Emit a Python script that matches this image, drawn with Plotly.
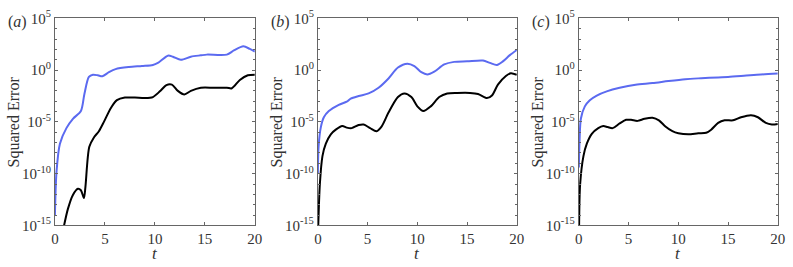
import plotly.graph_objects as go

# ---- data (time t and log10 of squared error) ----
t_a_blue = [0, 0.16, 0.5, 1.15, 1.8, 2.6, 2.95, 3.4, 3.8, 4.3, 4.75, 5.4, 6.07, 7.4, 8.7, 9.8, 10.3, 11.3, 11.8, 12.6, 13.6, 14.6, 15.2, 17.2, 17.9, 18.85, 19.5, 20]
e_a_blue = [-14, -9.8, -7.1, -5.6, -4.7, -3.95, -2.3, -0.65, -0.44, -0.5, -0.59, -0.2, 0.1, 0.3, 0.4, 0.5, 0.7, 1.4, 1.3, 1.0, 1.3, 1.43, 1.5, 1.5, 1.9, 2.3, 2.05, 1.8]
t_a_black = [0.85, 1.3, 1.8, 2.3, 2.6, 2.9, 3.05, 3.44, 3.9, 4.4, 4.9, 5.6, 6.2, 7.0, 8.0, 9.0, 9.8, 10.5, 11.15, 11.7, 12.3, 12.95, 13.6, 14.6, 15.9, 17.2, 17.7, 18.5, 19.3, 20]
e_a_black = [-15.3, -13.4, -12.05, -11.45, -11.6, -12.35, -11.3, -7.4, -6.5, -5.9, -5.0, -3.65, -2.9, -2.65, -2.65, -2.7, -2.6, -2.05, -1.45, -1.4, -2.0, -2.35, -2.0, -1.7, -1.7, -1.7, -1.75, -0.95, -0.5, -0.44]

t_b_blue = [0, 0.07, 0.3, 0.6, 1.1, 2.1, 2.9, 3.3, 4.1, 5.1, 6.1, 7.1, 8.05, 9.0, 9.7, 10.4, 11.0, 11.7, 12.7, 13.7, 15.0, 16.6, 17.3, 18.0, 18.6, 19.3, 20]
e_b_blue = [-10, -7.4, -5.5, -4.55, -3.95, -3.35, -3.05, -2.75, -2.5, -2.25, -1.7, -0.8, 0.25, 0.63, 0.4, -0.2, -0.42, -0.15, 0.55, 0.8, 0.85, 0.93, 0.7, 0.5, 0.85, 1.45, 1.95]
t_b_black = [0.03, 0.2, 0.46, 0.8, 1.3, 1.8, 2.45, 2.9, 3.4, 4.1, 4.6, 5.25, 5.9, 6.4, 7.1, 8.05, 8.7, 9.4, 10.0, 10.6, 11.35, 12.2, 13.0, 14.0, 15.3, 16.1, 17.0, 17.5, 18.1, 18.9, 19.4, 20]
e_b_black = [-15.3, -11, -8.3, -7.1, -6.2, -5.75, -5.4, -5.55, -5.6, -5.3, -5.25, -5.6, -5.9, -5.45, -4.1, -2.6, -2.25, -2.6, -3.5, -3.95, -3.5, -2.6, -2.25, -2.2, -2.2, -2.3, -2.7, -2.45, -1.4, -0.57, -0.3, -0.45]

t_c_blue = [0, 0.07, 0.2, 0.6, 1.1, 1.8, 2.8, 4.1, 5.7, 7.4, 9.0, 10.7, 12.3, 14.0, 15.0, 16.6, 18.3, 20]
e_c_blue = [-9.4, -6.8, -4.7, -3.5, -2.9, -2.45, -2.05, -1.7, -1.4, -1.25, -1.05, -0.87, -0.78, -0.7, -0.66, -0.55, -0.42, -0.33]
t_c_black = [0.02, 0.13, 0.46, 0.8, 1.3, 1.95, 2.45, 2.9, 3.4, 4.1, 4.75, 5.25, 5.9, 6.6, 7.4, 8.05, 8.7, 9.4, 10.0, 11.0, 12.0, 12.8, 13.3, 14.0, 14.65, 15.5, 16.3, 17.3, 18.0, 18.8, 19.4, 20]
e_c_black = [-15.3, -11, -8.3, -7.1, -6.15, -5.6, -5.4, -5.5, -5.6, -5.15, -4.8, -4.8, -4.9, -4.7, -4.6, -4.85, -5.45, -5.9, -6.1, -6.2, -6.1, -6.05, -5.75, -5.1, -4.85, -4.85, -4.55, -4.35, -4.55, -5.1, -5.25, -5.2]

panel_labels = ["(<i>a</i>)", "(<i>b</i>)", "(<i>c</i>)"]
y_tick_exps = [-15, -10, -5, 0, 5]
x_ticks = [0, 5, 10, 15, 20]

W, H = 793, 267
BLUE = "#5b6af0"
BLACK = "#000000"
AXC = "#666666"
TXC = "#333333"
FONT = "Liberation Serif, Times New Roman, serif"

panels = [
    (t_a_blue, e_a_blue, t_a_black, e_a_black),
    (t_b_blue, e_b_blue, t_b_black, e_b_black),
    (t_c_blue, e_c_blue, t_c_black, e_c_black),
]
x_px = [(51.7, 254.7), (318.7, 520.7), (583.7, 785.7)]
y_top, y_bot = 9.0, 231.0

fig = go.Figure()
annotations = []
for i, (tb, eb, tk, ek) in enumerate(panels):
    n = "" if i == 0 else str(i + 1)
    xa, ya = "x" + n, "y" + n
    fig.add_trace(go.Scatter(x=tb, y=[10 ** v for v in eb], mode="lines",
                             line=dict(color=BLUE, width=2, shape="spline", smoothing=0.8),
                             xaxis=xa, yaxis=ya, showlegend=False))
    fig.add_trace(go.Scatter(x=tk, y=[10 ** v for v in ek], mode="lines",
                             line=dict(color=BLACK, width=2, shape="spline", smoothing=0.8),
                             xaxis=xa, yaxis=ya, showlegend=False))
    x0, x1 = x_px[i]
    common = dict(showline=True, linecolor=AXC, linewidth=1, mirror="ticks",
                  ticks="inside", tickcolor=AXC, ticklen=3, showgrid=False, zeroline=False,
                  ticklabeloverflow="allow",
                  tickfont=dict(family=FONT, size=15, color=TXC))
    fig.layout["xaxis" + n] = dict(domain=[x0 / W, x1 / W], range=[0, 20],
                                  anchor=ya, tickvals=x_ticks, **common)
    fig.layout["yaxis" + n] = dict(domain=[1 - y_bot / H, 1 - y_top / H], type="log",
                                  range=[-15.0001, 5.0001], anchor=xa,
                                  tickvals=[10 ** e for e in y_tick_exps],
                                  ticktext=["10<sup>%d</sup>" % e for e in y_tick_exps],
                                  minor=dict(tickvals=[10 ** e for e in range(-15, 6)],
                                             ticks="inside", ticklen=2, tickcolor=AXC),
                                  **common)
    annotations.append(dict(text="Squared Error", x=(x0 - 42) / W, y=1 - 120 / H,
                            xref="paper", yref="paper", showarrow=False, textangle=-90,
                            xanchor="center", yanchor="middle",
                            font=dict(family=FONT, size=16, color=TXC)))
    annotations.append(dict(text="<i>t</i>", x=(x0 + x1) / 2 / W, y=1 - 261 / H,
                            xref="paper", yref="paper", showarrow=False,
                            xanchor="center", yanchor="middle",
                            font=dict(family=FONT, size=17, color=TXC)))
    annotations.append(dict(text=panel_labels[i], x=(x0 - 50) / W, y=1 - 13 / H,
                            xref="paper", yref="paper", showarrow=False,
                            xanchor="left", yanchor="middle",
                            font=dict(family=FONT, size=16, color=TXC)))

fig.update_layout(width=W, height=H, margin=dict(l=0, r=0, t=0, b=0),
                  paper_bgcolor="white", plot_bgcolor="white",
                  font=dict(family=FONT, color=TXC),
                  annotations=annotations)
fig.write_html(
    "out.html",
    config={"displayModeBar": False, "responsive": False},
    post_script=("document.documentElement.style.margin='0';"
                 "document.documentElement.style.overflow='hidden';"
                 "document.body.style.margin='0';"
                 "document.body.style.padding='0';"
                 "document.body.style.overflow='hidden';"),
)
